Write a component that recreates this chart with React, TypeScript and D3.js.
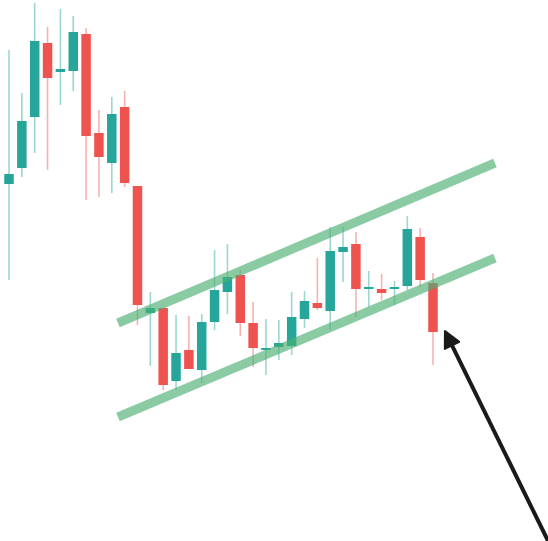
import * as d3 from "d3";

// candle prices
const opens = [104, 108, 120.75, 139.25, 132, 132.25, 141.5, 116.75, 109.25, 123.25, 103.5, 71.75, 73, 54.75, 62.5, 57.5, 69.5, 77, 81.25, 69.25, 62.5, 63.25, 63.5, 70.25, 74.25, 72.25, 87, 89, 77.75, 77.75, 77.75, 78.5, 90.75, 79.25];
const closes = [106.5, 119.75, 139.75, 130.5, 132.75, 142, 116, 110.75, 121.5, 104.25, 73.75, 73, 53.75, 61.75, 57.75, 69.5, 77.5, 80.75, 69.25, 63, 63, 64.25, 70.75, 74.75, 73, 87.25, 88.25, 77.75, 78.25, 76.75, 78.25, 92.75, 80, 67];
const highs = [137.5, 126.75, 149.25, 143.25, 147.75, 146, 143, 122.5, 125.75, 127.25, 103.5, 77, 73, 71.25, 71, 71.5, 87.5, 89, 82.5, 74.5, 70.25, 70, 77, 77.25, 85.5, 93.25, 93.25, 92, 82.25, 81.5, 79.75, 96, 93, 81.75];
const lows = [80, 105.75, 111.75, 107.5, 123.75, 127.25, 100, 100.75, 101.75, 103.25, 68.75, 58.5, 52.5, 52.5, 57.75, 54.25, 67.5, 71.5, 66, 58.25, 56.25, 60, 61.25, 68, 72.5, 67.5, 79.5, 70.75, 73.25, 75, 73.75, 77.5, 78.25, 58.75];

// channel lines as [index, price]
const upperChannel: [number, number][] = [[8.48, 69.25], [37.82, 109.25]];
const lowerChannel: [number, number][] = [[8.48, 45.75], [37.82, 85.5]];
// arrow from tail to tip
const arrowPts: [number, number][] = [[42.3, 12.5], [33.93, 67.25]];

const W = 548;
const H = 541;
const UP = "#26a69a";
const DOWN = "#ef5350";

export default function App() {
  const x = d3.scaleLinear().domain([0, opens.length - 1]).range([9, 433]);
  const y = d3.scaleLinear().domain([150, 150 - H / 4]).range([0, H]);
  const bodyW = 9.5;
  const line = d3.line<[number, number]>().x((d) => x(d[0])).y((d) => y(d[1]));

  const [t0, t1] = arrowPts;
  const ax0 = x(t0[0]), ay0 = y(t0[1]), ax1 = x(t1[0]), ay1 = y(t1[1]);
  const ang = Math.atan2(ay1 - ay0, ax1 - ax0);
  const headLen = 16, headW = 8;
  const bx = ax1 - headLen * Math.cos(ang), by = ay1 - headLen * Math.sin(ang);
  const head = [
    [ax1, ay1],
    [bx + headW * Math.sin(ang), by - headW * Math.cos(ang)],
    [bx - headW * Math.sin(ang), by + headW * Math.cos(ang)],
  ];

  return (
    <svg width={W} height={H} style={{ position: "absolute", left: 0, top: 0, background: "#fff" }}>
      {opens.map((o, i) => {
        const c = closes[i];
        const col = c >= o ? UP : DOWN;
        const top = y(Math.max(o, c));
        const bot = y(Math.min(o, c));
        return (
          <g key={i}>
            <line x1={x(i)} x2={x(i)} y1={y(highs[i])} y2={y(lows[i])} stroke={col} strokeOpacity={0.45} strokeWidth={1.6} />
            <rect x={x(i) - bodyW / 2} y={top} width={bodyW} height={Math.max(bot - top, 2)} fill={col} />
          </g>
        );
      })}
      <path d={line(upperChannel) ?? ""} stroke="#4caf73" strokeOpacity={0.65} strokeWidth={9} fill="none" />
      <path d={line(lowerChannel) ?? ""} stroke="#4caf73" strokeOpacity={0.65} strokeWidth={9} fill="none" />
      <line x1={ax0} y1={ay0} x2={bx} y2={by} stroke="#1a1a1a" strokeWidth={4} />
      <polygon points={head.map((p) => p.join(",")).join(" ")} fill="#1a1a1a" stroke="#1a1a1a" strokeWidth={2} strokeLinejoin="round" />
    </svg>
  );
}
